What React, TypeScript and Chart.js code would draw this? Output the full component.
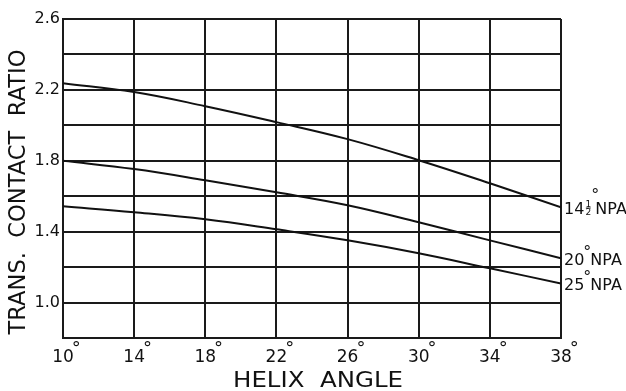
import React, { useEffect, useRef } from "react";
import { Chart, registerables } from "chart.js";

Chart.register(...registerables);

const helixAngles = [10, 14, 18, 22, 26, 30, 34, 38];
const npa145 = [2.238, 2.188, 2.108, 2.018, 1.922, 1.803, 1.673, 1.538];
const npa20 = [1.8, 1.753, 1.69, 1.622, 1.549, 1.453, 1.351, 1.25];
const npa25 = [1.543, 1.51, 1.47, 1.413, 1.351, 1.278, 1.193, 1.108];
const seriesNumbers = ["14", "20", "25"];
const seriesFraction = ["\u00BD", "", ""];
const seriesSuffix = "NPA";
const xTickValues = [10, 14, 18, 22, 26, 30, 34, 38];
const yLabelValues = [1.0, 1.4, 1.8, 2.2, 2.6];
const xTitle = "HELIX  ANGLE";
const yTitle = "TRANS.  CONTACT  RATIO";

const FONT = "'DejaVu Sans', 'Liberation Sans', sans-serif";
const INK = "#111";

function drawFittedText(ctx: CanvasRenderingContext2D, text: string, targetW: number) {
  const w = ctx.measureText(text).width;
  ctx.save();
  ctx.scale(targetW / w, 1);
  ctx.fillText(text, 0, 0);
  ctx.restore();
}

const labelsPlugin = {
  id: "customLabels",
  afterDraw(chart: any) {
    const ctx: CanvasRenderingContext2D = chart.ctx;
    const area = chart.chartArea;
    const xs = chart.scales.x;
    ctx.save();
    ctx.fillStyle = INK;
    ctx.strokeStyle = INK;

    // x tick labels: digits centered on the gridline, raised degree mark after
    ctx.textBaseline = "alphabetic";
    xTickValues.forEach((v) => {
      const px = xs.getPixelForValue(v);
      ctx.font = `17px ${FONT}`;
      ctx.textAlign = "center";
      const s = String(v);
      const w = ctx.measureText(s).width;
      ctx.fillText(s, px, area.bottom + 24);
      ctx.font = `18px ${FONT}`;
      ctx.textAlign = "left";
      ctx.fillText("\u00B0", px + w / 2 - 2, area.bottom + 16);
    });

    // end labels
    chart.data.datasets.forEach((ds: any, i: number) => {
      const meta = chart.getDatasetMeta(i);
      const last = meta.data[meta.data.length - 1];
      const cy = last.y + 1;
      let x = area.right + 3;
      ctx.textAlign = "left";
      ctx.textBaseline = "alphabetic";
      ctx.font = `16px ${FONT}`;
      const num = seriesNumbers[i];
      ctx.fillText(num, x, cy + 6);
      x += ctx.measureText(num).width;
      if (seriesFraction[i]) {
        ctx.font = `9px ${FONT}`;
        ctx.textAlign = "center";
        ctx.fillText("1", x + 4, cy - 1);
        ctx.fillText("2", x + 4, cy + 7);
        ctx.lineWidth = 0.8;
        ctx.beginPath();
        ctx.moveTo(x + 1.5, cy - 0.2);
        ctx.lineTo(x + 6.5, cy - 0.2);
        ctx.stroke();
        ctx.textAlign = "left";
        x += 8;
      }
      ctx.font = `16px ${FONT}`;
      ctx.fillText("\u00B0", x - 1, cy - (seriesFraction[i] ? 8 : 2));
      x += seriesFraction[i] ? 3 : 6;
      ctx.font = `16px ${FONT}`;
      ctx.fillText(seriesSuffix, x, cy + 6);
    });

    // x title
    ctx.font = `21px ${FONT}`;
    ctx.textAlign = "center";
    ctx.textBaseline = "alphabetic";
    ctx.save();
    ctx.translate(318, 387);
    drawFittedText(ctx, xTitle, 170);
    ctx.restore();

    // y title
    ctx.save();
    ctx.font = `23px ${FONT}`;
    ctx.translate(25, 192);
    ctx.rotate(-Math.PI / 2);
    drawFittedText(ctx, yTitle, 285);
    ctx.restore();

    ctx.restore();
  },
};

export default function App() {
  const ref = useRef<HTMLCanvasElement>(null);
  useEffect(() => {
    document.body.style.margin = "0";
    const mk = (vals: number[]) => helixAngles.map((x, i) => ({ x, y: vals[i] }));
    const dsBase = {
      borderColor: INK,
      borderWidth: 2,
      pointRadius: 0,
      tension: 0.4,
      fill: false,
    };
    const chart = new Chart(ref.current!, {
      type: "line",
      data: {
        datasets: [
          { ...dsBase, label: "14.5 NPA", data: mk(npa145) },
          { ...dsBase, label: "20 NPA", data: mk(npa20) },
          { ...dsBase, label: "25 NPA", data: mk(npa25) },
        ],
      },
      options: {
        animation: false,
        responsive: false,
        layout: { padding: { top: 19, right: 65, left: 0, bottom: 0 } },
        plugins: { legend: { display: false }, tooltip: { enabled: false } },
        scales: {
          x: {
            type: "linear",
            min: 10,
            max: 38,
            grid: { color: "#1a1a1a", lineWidth: 2, drawTicks: false },
            border: { color: "#1a1a1a", width: 2 },
            ticks: { stepSize: 4, display: false },
            afterFit: (s: any) => {
              s.height = 53;
            },
          },
          y: {
            type: "linear",
            min: 0.8,
            max: 2.6,
            grid: { color: "#1a1a1a", lineWidth: 2, drawTicks: false },
            border: { color: "#1a1a1a", width: 2 },
            ticks: {
              stepSize: 0.2,
              color: INK,
              font: { family: FONT, size: 16 },
              padding: 3,
              callback: (v: any) => {
                const r = Math.round(v * 10) / 10;
                return yLabelValues.some((t) => Math.abs(t - r) < 1e-6) ? r.toFixed(1) : "";
              },
            },
            afterFit: (s: any) => {
              s.width = 63;
            },
          },
        },
      },
      plugins: [labelsPlugin],
    });
    return () => chart.destroy();
  }, []);
  return <canvas ref={ref} width={626} height={391} style={{ display: "block" }} />;
}
